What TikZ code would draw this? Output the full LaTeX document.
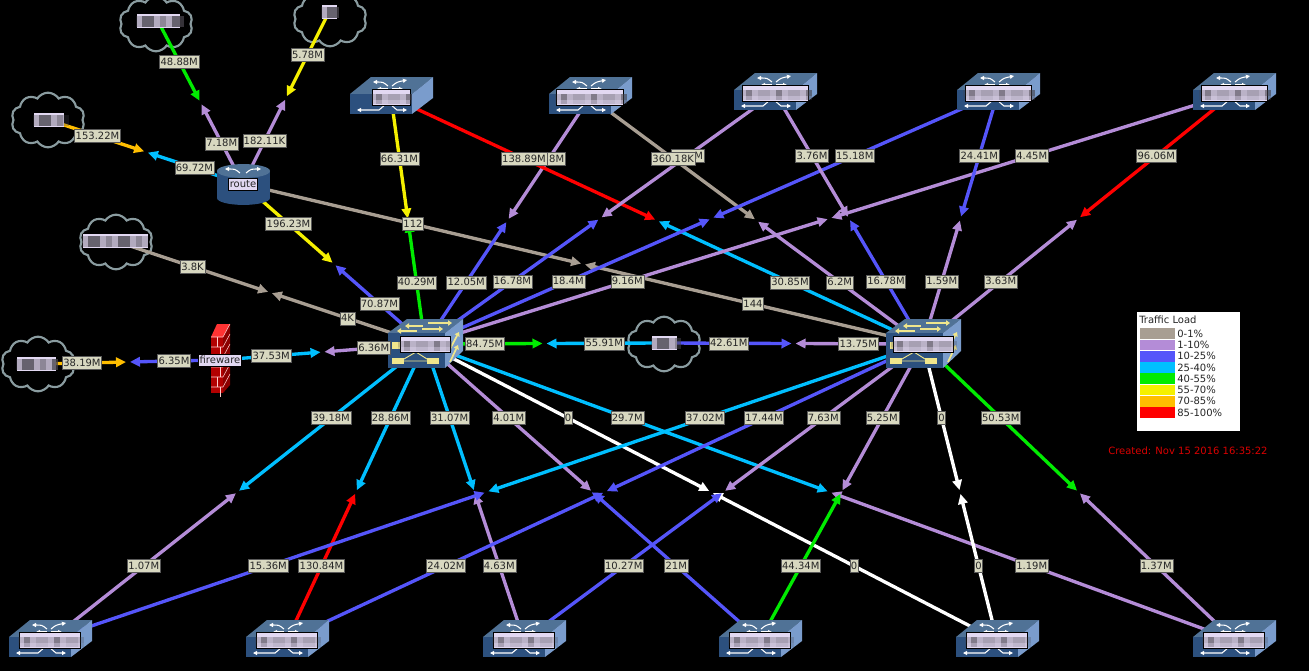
\documentclass[tikz,border=0pt]{standalone}
\usepackage{fontspec}
\setmainfont{DejaVu Sans}
\usepackage{xcolor}
\usetikzlibrary{arrows.meta,calc,shapes.symbols}
\definecolor{tgray}{RGB}{168,158,146}
\definecolor{tpurple}{RGB}{180,140,215}
\definecolor{tblue}{RGB}{85,85,250}
\definecolor{tcyan}{RGB}{0,191,255}
\definecolor{tgreen}{RGB}{0,235,0}
\definecolor{tyellow}{RGB}{245,240,0}
\definecolor{torange}{RGB}{255,190,0}
\definecolor{tred}{RGB}{255,0,0}
\definecolor{labfill}{RGB}{216,216,192}
\definecolor{namefill}{RGB}{226,216,242}
\definecolor{swtop}{RGB}{80,114,150}
\definecolor{swfront}{RGB}{44,80,126}
\definecolor{swside}{RGB}{122,156,204}
\definecolor{coremark}{RGB}{240,230,140}
\definecolor{cloudline}{RGB}{138,156,160}
\newcommand{\linklist}{c1/tgreen/r1/tpurple/48.88M/7.18M,
  c2/tyellow/r1/tpurple/5.78M/182.11K,
  c3/torange/r1/tcyan/153.22M/69.72M,
  r1/tyellow/k1/tblue/196.23M/70.87M,
  c4/tgray/k1/tgray/3.8K/4K,
  c5/torange/f1/tblue/38.19M/6.35M,
  f1/tcyan/k1/tpurple/37.53M/6.36M,
  s1/tyellow/k1/tgreen/66.31M/40.29M,
  r1/tgray/k2/tgray/112/144,
  s2/tpurple/k1/tblue/\phantom{0.0}8M/12.05M,
  s1/tred/k2/tcyan/138.89M/30.85M,
  s3/tpurple/k1/tblue/\phantom{0.00}M/16.78M,
  s2/tgray/k2/tpurple/360.18K/6.2M,
  s4/tblue/k1/tblue/15.18M/18.4M,
  s3/tpurple/k2/tblue/3.76M/16.78M,
  s5/tpurple/k1/tpurple/4.45M/9.16M,
  s4/tblue/k2/tpurple/24.41M/1.59M,
  s5/tred/k2/tpurple/96.06M/3.63M,
  k1/tgreen/c6/tcyan/84.75M/55.91M,
  c6/tblue/k2/tpurple/42.61M/13.75M,
  k1/tcyan/b1/tpurple/39.18M/1.07M,
  k1/tcyan/b2/tred/28.86M/130.84M,
  k1/tcyan/b3/tpurple/31.07M/4.63M,
  k1/tpurple/b4/tblue/4.01M/21M,
  k1/white/b5/white/0/0,
  k1/tcyan/b6/tpurple/29.7M/1.19M,
  k2/tcyan/b1/tblue/37.02M/15.36M,
  k2/tblue/b2/tblue/17.44M/24.02M,
  k2/tpurple/b3/tblue/7.63M/10.27M,
  k2/tpurple/b4/tgreen/5.25M/44.34M,
  k2/white/b5/white/0/0,
  k2/tgreen/b6/tpurple/50.53M/1.37M}

\begin{document}
\begin{tikzpicture}[x=0.75pt,y=-0.75pt,
  font=\fontsize{7.5}{9}\selectfont,
  hub/.style={inner sep=0pt, minimum size=0pt},
  cloudbody/.style={cloud, cloud puffs=10, cloud puff arc=115, aspect=1.3, draw=cloudline, line width=1.6pt, minimum width=55pt, minimum height=41pt, inner sep=0pt},
  arr/.style={draw=#1, line width=2.5pt, shorten >=1.5pt, -{Triangle[length=7.5pt,width=7pt]}, #1},
  lab/.style={draw=black!65, line width=0.3pt, fill=labfill, text=black!85, inner sep=0.75pt, minimum height=9.75pt},
  devlab/.style={draw=black, line width=0.4pt, fill=namefill, text=black!85, inner sep=1pt, minimum height=9pt},
  swatch/.style={fill=#1, minimum width=26pt, minimum height=8pt, inner sep=0pt},
  legtxt/.style={anchor=west, text=black!85, inner sep=0pt},
  swmark/.style={draw=white, line width=0.8pt, -{Triangle[length=3pt,width=3pt]}},
  yelmark/.style={draw=coremark, line width=1.3pt, -{Triangle[length=3pt,width=4pt]}},
  namebox/.pic={
    \fill[namefill] (-#1/2,-8) rectangle (#1/2,8);
    \draw[black, line width=0.4pt] (-#1/2,-8) rectangle (#1/2,8);
    \pgfmathtruncatemacro\ncell{#1/6}
    \foreach \i in {0,...,\ncell} {
      \pgfmathsetmacro\cellop{0.25+mod(\i*\i*7+\i,5)*0.12}
      \fill[black!70!namefill, fill opacity=\cellop] (-#1/2-2+\i*6,-3) rectangle +(6,6);
      \fill[black!70!namefill, fill opacity=\cellop*0.6] (-#1/2-2+\i*6,3) rectangle +(6,4);
    }
  },
  cloudname/.pic={
    \fill[namefill] (-#1/2,-7) rectangle (#1/2,7);
    \pgfmathtruncatemacro\ncell{#1/6}
    \foreach \i in {0,...,\ncell} {
      \pgfmathsetmacro\cellop{0.3+mod(\i*\i*3+\i,5)*0.12}
      \fill[black!70!namefill, fill opacity=\cellop] (-#1/2-1+\i*6,-5) rectangle +(6,11);
    }
  },
  swicon/.pic={
    \fill[swtop] (-41,-3) -- (-20,-20) -- (42,-20) -- (21,-3) -- cycle;
    \fill[swfront] (-41,-3) rectangle (21,17);
    \fill[swside] (21,-3) -- (42,-20) -- (42,1) -- (21,17) -- cycle;
    \draw[swmark] (-3,-11) .. controls (-8,-15) .. (-18,-15);
    \draw[swmark] (1,-11) .. controls (6,-15) .. (16,-17);
    \draw[swmark] (-3,-8) -- (-14,-8);
    \draw[swmark] (1,-8) -- (12,-8);
    \draw[swmark, {Triangle[length=3pt,width=3pt]}-] (-34,13) -- (-12,13) -- (-5,7);
    \draw[swmark] (-1,7) -- (6,13) -- (16,13);
    \pic at (0,0) {namebox=#1};
  },
  coreicon/.pic={
    \fill[swtop] (-37,-11) -- (-18,-25) -- (38,-25) -- (20,-11) -- cycle;
    \fill[swfront] (-37,-11) rectangle (20,24);
    \fill[swside] (20,-11) -- (38,-25) -- (38,7) -- (20,24) -- cycle;
    \draw[yelmark] (-2,-18) -- (-20,-18);
    \draw[yelmark] (3,-21) -- (27,-21);
    \draw[yelmark] (-8,-13) -- (-28,-13);
    \draw[yelmark] (-3,-15) -- (18,-15);
    \draw[yelmark] (25,5) -- (34,-12);
    \draw[yelmark] (25,18) -- (33,1);
    \fill[coremark] (-33,14) rectangle (-21,20);
    \fill[coremark] (2,14) rectangle (14,20);
    \fill[coremark] (-33,-2) rectangle (-25,5);
    \draw[coremark, line width=0.7pt] (-21,15) -- (-9,8) -- (2,15) (-21,17) -- (2,17);
    \pic at (0,0) {namebox=#1};
  },
  routericon/.pic={
    \fill[swfront] (0.5,14) ellipse [x radius=19.9pt, y radius=5.2pt];
    \fill[swfront] (-26,-13) rectangle (27,14);
    \fill[swtop] (0.5,-13) ellipse [x radius=19.9pt, y radius=5.2pt];
    \draw[swmark] (-3,-11) .. controls (-8,-15) .. (-18,-15);
    \draw[swmark] (3,-11) .. controls (8,-15) .. (18,-15);
  },
  wallicon/.pic={
    \fill[red!70!black] (-9,-23) rectangle (3,33);
    \fill[red!55!black] (3,-23) -- (10,-36) -- (10,25) -- (3,33) -- cycle;
    \fill[red!80!white] (-9,-23) -- (-3,-36) -- (10,-36) -- (3,-23) -- cycle;
    \foreach \row in {0,...,5} {
      \pgfmathsetmacro\brick{-3+mod(\row,2)*3}
      \draw[white!80!red, line width=0.4pt] (-9,-23+\row*10) -- (3,-23+\row*10) -- (10,-36+\row*10);
      \draw[white!80!red, line width=0.4pt] (\brick,-23+\row*10) -- +(0,10);
    }
  },
]
\useasboundingbox (0,0) rectangle (1309,671);
\clip (0,0) rectangle (1309,671);
\fill[black] (0,0) rectangle (1309,671);
% clouds
\foreach \n/\x/\y/\cx/\cy in {c1/158/21/156/24, c2/329/12/330/19, c3/49/120/48/120, c4/115/241/116/242, c5/36/364/38/364, c6/664/343/664/344} {
  \node[cloudbody] (\n body) at (\cx,\cy) {};
  \node[hub] (\n) at (\x,\y) {};
}
% devices
\foreach \n/\x/\y in {r1/243/184, f1/220/360, k1/425/344, k2/923/344,
  s1/391/97, s2/590/97, s3/775/93, s4/998/93, s5/1234/93,
  b1/50/640, b2/287/640, b3/524/640, b4/760/640, b5/997/640, b6/1234/640}
  \node[hub] (\n) at (\x,\y) {};
% links
\foreach \a/\ca/\b/\cb/\la/\lb in \linklist {
  \coordinate (mid) at ($(\a)!0.5!(\b)$);
  \draw[arr=\ca] (\a.center) -- (mid);
  \draw[arr=\cb] (\b.center) -- (mid);
}
% icons
\foreach \n/\w in {c1/43, c2/15, c3/30, c4/65, c5/39, c6/25}
  \pic at (\n) {cloudname=\w};
\foreach \n/\w in {s1/38, s2/67, s3/66, s4/66, s5/66, b1/61, b2/61, b3/61, b4/61, b5/61, b6/61}
  \pic at (\n) {swicon=\w};
\pic at (k1) {coreicon=50};
\pic at (k2) {coreicon=60};
\pic at (r1) {routericon};
\pic at (f1) {wallicon};
\node[devlab] (r1name) at (r1) {route};
\node[devlab] (f1name) at (f1) {fireware};
% bandwidth labels
\foreach \a/\ca/\b/\cb/\la/\lb in \linklist {
  \node[lab] at ($(\a)!0.25!(\b)$) {\la};
  \node[lab] at ($(\a)!0.75!(\b)$) {\lb};
}
% legend
\fill[white] (1137,312) rectangle (1240,431);
\node[legtxt] (legtitle) at (1139,320) {Traffic Load};
\foreach \col/\txt [count=\i] in {tgray/0-1\%, tpurple/1-10\%, tblue/10-25\%, tcyan/25-40\%, tgreen/40-55\%, tyellow/55-70\%, torange/70-85\%, tred/85-100\%} {
  \node[swatch=\col] (key\i) at (1157.5,322.5+\i*11.25) {};
  \node[legtxt] at (1177,322.5+\i*11.25) {\txt};
}
\node[anchor=west, text=red!85!black, inner sep=0pt] (stamp) at (1108,451) {Created: Nov 15 2016 16:35:22};
\end{tikzpicture}
\end{document}
